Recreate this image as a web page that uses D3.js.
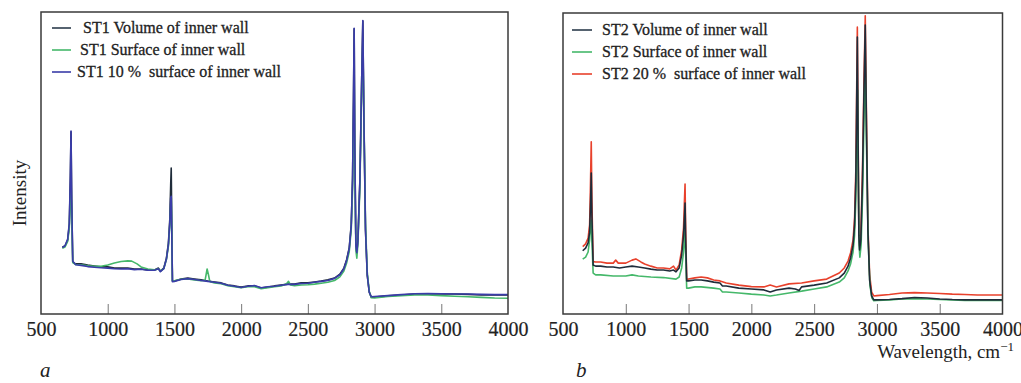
<!DOCTYPE html>
<html>
<head>
<meta charset="utf-8">
<script src="https://cdn.jsdelivr.net/npm/d3@7"></script>
<style>
  body { margin: 0; background: #fff; }
  svg { display: block; }
  text { font-family: "Liberation Serif", "Times New Roman", serif; fill: #222; }
</style>
</head>
<body>
<div id="chart"></div>
<script>
// x ticks shared by both panels
const tickValues = [500, 1000, 1500, 2000, 2500, 3000, 3500, 4000];

// ---- panel a: [wavenumber, intensity (arb.)] ----
const st1Volume = [
  [660,22.2],[680,22.5],[700,24.5],[712,29.5],[720,44.4],[725,60.3],[730,37.7],[738,17.2],
  [760,16.6],[800,16.6],[850,16.2],[900,15.9],[950,15.6],[1000,15.6],[1050,15.2],[1100,15.2],
  [1150,15.2],[1200,14.9],[1250,14.9],[1300,14.6],[1350,14.6],[1380,15.2],[1395,14.2],[1420,15.2],
  [1440,18.5],[1455,23.5],[1465,31.1],[1472,42.7],[1476,48.3],[1480,31.1],[1485,10.9],[1500,10.9],
  [1550,11.6],[1600,11.9],[1650,11.6],[1700,11.3],[1750,10.9],[1800,10.6],[1850,10.3],[1900,9.6],
  [1950,9.3],[2000,8.9],[2050,9.3],[2100,9.3],[2150,8.6],[2200,8.9],[2250,9.3],[2300,9.6],
  [2350,9.9],[2400,9.9],[2450,10.3],[2500,10.3],[2550,10.6],[2600,10.9],[2650,11.3],[2700,11.9],
  [2740,13.2],[2770,15.2],[2790,17.9],[2810,21.9],[2825,29.5],[2835,44.4],[2842,70.9],[2847,94.4],
  [2852,54.3],[2860,22.8],[2867,20.5],[2875,24.5],[2890,44.4],[2902,74.2],[2912,97.0],[2920,64.2],
  [2932,27.8],[2945,12.9],[2960,7.3],[2975,5.6],[3000,5.6],[3100,6.0],[3200,6.3],[3300,6.6],
  [3400,6.7],[3500,6.6],[3600,6.6],[3700,6.5],[3800,6.3],[3900,6.3],[4000,6.3]
];
const st1Surface = [
  [660,21.8],[680,22.2],[700,24.0],[712,28.5],[720,38.0],[725,45.0],[730,33.0],[738,17.0],
  [760,16.4],[800,16.3],[850,16.0],[900,15.8],[950,15.8],[1000,16.2],[1050,16.9],[1100,17.4],
  [1150,17.6],[1180,17.5],[1220,16.6],[1250,15.6],[1300,14.9],[1350,14.6],[1380,15.0],[1395,14.2],
  [1420,15.0],[1440,18.0],[1455,22.5],[1465,29.0],[1472,36.0],[1476,38.5],[1480,28.0],[1485,11.0],
  [1500,11.0],[1550,11.5],[1600,11.6],[1650,11.3],[1700,11.0],[1730,11.2],[1745,14.9],[1755,13.0],
  [1765,10.8],[1800,10.3],[1850,10.0],[1900,9.4],[1950,9.0],[2000,8.7],[2050,9.0],[2100,9.0],
  [2150,8.4],[2200,8.7],[2250,9.0],[2300,9.3],[2340,10.0],[2355,10.8],[2370,9.6],[2400,9.4],
  [2450,9.6],[2500,9.7],[2550,9.9],[2600,10.2],[2650,10.5],[2700,11.1],[2740,12.3],[2770,14.2],
  [2790,16.8],[2810,20.6],[2825,27.8],[2835,41.0],[2842,62.0],[2847,80.0],[2852,48.0],[2860,21.0],
  [2867,18.5],[2875,23.0],[2890,42.0],[2902,70.0],[2912,90.0],[2920,66.0],[2932,30.0],[2945,14.0],
  [2960,7.5],[2975,5.4],[3000,5.3],[3100,5.8],[3200,6.1],[3300,6.3],[3400,6.3],[3500,6.1],
  [3600,5.9],[3700,5.7],[3800,5.5],[3900,5.3],[4000,5.2]
];
const st1Ten = [
  [660,22.0],[680,22.6],[700,24.8],[712,30.0],[720,46.0],[725,60.6],[730,38.0],[738,17.5],
  [760,16.3],[800,16.1],[850,15.7],[900,15.5],[950,15.3],[1000,15.2],[1050,15.0],[1100,14.9],
  [1150,15.0],[1200,14.7],[1250,14.8],[1300,14.5],[1350,14.5],[1380,15.0],[1395,14.0],[1420,15.0],
  [1440,18.2],[1455,23.0],[1465,30.0],[1472,38.5],[1476,39.0],[1480,27.0],[1485,10.7],[1500,10.8],
  [1550,11.4],[1600,11.7],[1650,11.4],[1700,11.1],[1750,10.8],[1800,10.5],[1850,10.2],[1900,9.5],
  [1950,9.2],[2000,8.8],[2050,9.2],[2100,9.4],[2150,8.7],[2200,9.0],[2250,9.2],[2300,9.5],
  [2350,9.8],[2400,9.8],[2450,10.1],[2500,10.2],[2550,10.5],[2600,10.8],[2650,11.1],[2700,11.8],
  [2740,13.0],[2770,15.0],[2790,17.6],[2810,21.6],[2825,29.0],[2835,45.0],[2842,72.0],[2847,94.6],
  [2852,55.0],[2860,22.5],[2867,20.3],[2875,24.0],[2890,44.0],[2902,74.0],[2912,97.2],[2920,65.0],
  [2932,28.0],[2945,13.0],[2960,7.2],[2975,5.7],[3000,5.8],[3100,6.1],[3200,6.4],[3300,6.7],
  [3400,6.8],[3500,6.7],[3600,6.6],[3700,6.6],[3800,6.5],[3900,6.4],[4000,6.4]
];

// ---- panel b ----
const st2Volume = [
  [657,21.0],[680,21.9],[700,23.6],[712,27.2],[720,37.9],[725,46.8],[730,32.9],[740,16.3],
  [760,15.9],[800,15.9],[850,15.6],[900,15.6],[950,15.3],[1000,15.6],[1050,15.9],[1100,15.6],
  [1150,15.3],[1200,14.9],[1250,14.6],[1300,14.6],[1350,14.3],[1380,14.6],[1400,14.0],[1425,15.3],
  [1445,19.6],[1460,26.2],[1468,32.9],[1472,36.9],[1477,24.6],[1485,11.0],[1500,11.0],[1550,11.3],
  [1600,11.3],[1650,11.0],[1700,10.6],[1750,10.3],[1770,9.3],[1800,9.3],[1900,8.6],[2000,8.3],
  [2100,8.0],[2150,7.3],[2200,8.0],[2300,8.6],[2350,8.3],[2380,7.8],[2400,9.0],[2500,9.6],
  [2600,10.3],[2700,12.0],[2740,13.6],[2770,15.9],[2790,18.6],[2810,22.9],[2822,29.6],[2832,44.5],
  [2838,67.8],[2844,92.0],[2850,57.8],[2856,26.2],[2862,21.3],[2872,24.6],[2885,44.5],[2897,74.4],
  [2907,96.0],[2915,67.8],[2928,27.9],[2942,11.3],[2958,6.0],[2975,4.7],[3000,4.7],[3100,4.8],
  [3200,5.1],[3300,5.5],[3400,5.3],[3500,5.0],[3600,4.8],[3700,4.7],[3800,4.7],[3900,4.7],[4000,4.7]
];
const st2Surface = [
  [657,18.2],[680,18.9],[700,20.6],[712,24.6],[720,29.6],[725,31.2],[730,24.6],[740,13.6],
  [760,13.0],[800,13.0],[900,12.6],[1000,12.6],[1050,13.0],[1100,12.6],[1200,12.3],[1300,12.1],
  [1400,11.6],[1425,12.3],[1445,15.3],[1460,20.6],[1468,25.2],[1472,27.9],[1477,19.6],[1485,8.6],
  [1500,8.6],[1550,9.0],[1600,9.0],[1700,8.6],[1750,8.3],[1770,7.3],[1800,7.3],[1900,7.0],
  [2000,6.6],[2100,6.3],[2150,6.0],[2200,6.3],[2300,7.0],[2400,7.6],[2500,8.3],[2600,9.0],
  [2700,10.6],[2740,12.0],[2770,14.3],[2790,16.6],[2810,20.6],[2822,26.2],[2832,37.9],[2840,57.8],
  [2846,74.4],[2852,44.5],[2858,22.9],[2864,18.9],[2874,22.9],[2887,41.2],[2897,64.5],[2907,84.4],
  [2916,57.8],[2930,24.6],[2944,9.6],[2960,5.3],[2975,4.4],[3000,4.5],[3100,4.7],[3200,5.0],
  [3300,5.1],[3400,5.0],[3500,4.8],[3600,4.7],[3700,4.5],[3800,4.5],[3900,4.5],[4000,4.5]
];
const st2Twenty = [
  [657,22.4],[680,23.3],[700,25.2],[712,29.6],[718,41.2],[725,57.2],[730,37.9],[740,17.4],
  [760,17.3],[800,17.3],[850,16.9],[900,16.9],[920,17.9],[940,16.9],[1000,16.9],[1050,17.9],
  [1080,18.3],[1120,17.3],[1150,16.6],[1200,15.9],[1250,15.3],[1300,15.3],[1350,15.0],[1380,15.9],
  [1400,14.6],[1425,16.3],[1445,21.3],[1460,28.6],[1466,36.2],[1472,43.2],[1477,27.9],[1485,11.6],
  [1500,11.6],[1550,12.0],[1600,12.3],[1650,12.0],[1700,11.3],[1750,11.0],[1800,10.3],[1900,9.6],
  [2000,9.1],[2100,9.0],[2150,9.6],[2200,9.0],[2300,10.0],[2400,10.3],[2500,11.0],[2600,11.6],
  [2700,13.6],[2740,15.3],[2770,17.6],[2790,20.3],[2810,24.6],[2822,31.9],[2832,47.8],[2838,71.1],
  [2844,95.3],[2850,61.1],[2856,27.9],[2862,22.6],[2872,27.2],[2885,47.8],[2897,77.7],[2907,99.1],
  [2915,71.1],[2928,29.6],[2942,13.0],[2958,7.3],[2975,6.0],[3000,6.1],[3100,6.5],[3200,7.0],
  [3300,7.1],[3400,7.0],[3500,6.8],[3600,6.6],[3700,6.5],[3800,6.3],[3900,6.3],[4000,6.3]
];

const width = 1021, height = 383;
const svg = d3.select("#chart").append("svg")
  .attr("width", width)
  .attr("height", height);

svg.append("rect").attr("width", width).attr("height", height).attr("fill", "#fff");

function drawPanel(p) {
  const x = d3.scaleLinear().domain([500, 4000]).range([p.left, p.right]);
  const y = d3.scaleLinear().domain([0, 100]).range([p.bottom, p.top]);
  const g = svg.append("g");

  // inner ticks (pointing up, no labels)
  g.append("g")
    .attr("transform", `translate(0,${p.bottom})`)
    .call(d3.axisBottom(x).tickValues(tickValues.slice(1, -1)).tickSize(-10).tickFormat(""))
    .call(a => a.select(".domain").remove())
    .call(a => a.selectAll("line").attr("stroke", "#777").attr("stroke-width", 1));

  // labels
  g.append("g")
    .attr("transform", `translate(0,${p.bottom})`)
    .call(d3.axisBottom(x).tickValues(tickValues).tickSize(0).tickPadding(8).tickFormat(d3.format("d")))
    .call(a => a.select(".domain").remove())
    .call(a => a.selectAll("text")
      .attr("font-family", "Liberation Serif, serif")
      .attr("font-size", 20)
      .attr("fill", "#222")
      .attr("stroke", "#222").attr("stroke-width", 0.2));

  const line = d3.line().x(d => x(d[0])).y(d => y(d[1]));
  p.series.forEach(s => {
    g.append("path")
      .datum(s.data)
      .attr("fill", "none")
      .attr("stroke", s.color)
      .attr("stroke-width", 1.6)
      .attr("stroke-linejoin", "round")
      .attr("d", line);
  });

  // frame
  g.append("rect")
    .attr("x", p.left).attr("y", p.top)
    .attr("width", p.right - p.left).attr("height", p.bottom - p.top)
    .attr("fill", "none").attr("stroke", "#3a3a3a").attr("stroke-width", 1.5);

  // legend
  p.legend.forEach((s, i) => {
    const ly = p.legendY + i * 22;
    g.append("line")
      .attr("x1", p.legendX).attr("x2", p.legendX + p.legendLen)
      .attr("y1", ly).attr("y2", ly)
      .attr("stroke", s.color).attr("stroke-width", 1.6);
    g.append("text")
      .attr("x", p.legendX + p.legendLen + s.gap)
      .attr("y", ly + 5)
      .attr("font-size", 16)
      .attr("stroke", "#222").attr("stroke-width", 0.3)
      .style("white-space", "pre")
      .text(s.name);
  });

  // panel letter
  g.append("text")
    .attr("x", p.letterX).attr("y", p.letterY)
    .attr("font-size", 21).attr("font-style", "italic")
    .text(p.letter);
}

const colBlack = "#1f2c3a", colGreen = "#45b86a", colBlue = "#3a3ca8", colRed = "#e8412c";

drawPanel({
  left: 41, right: 508, top: 12, bottom: 314,
  series: [
    { data: st1Volume, color: colBlack },
    { data: st1Surface, color: colGreen },
    { data: st1Ten, color: colBlue }
  ],
  legend: [
    { name: "ST1 Volume of inner wall", color: "#2b3c4c", gap: 12 },
    { name: "ST1 Surface of inner wall", color: colGreen, gap: 9 },
    { name: "ST1 10 %  surface of inner wall", color: colBlue, gap: 6 }
  ],
  legendX: 52, legendLen: 19, legendY: 28,
  letter: "a", letterX: 40, letterY: 377
});

drawPanel({
  left: 563, right: 1002.5, top: 13, bottom: 314,
  series: [
    { data: st2Twenty, color: colRed },
    { data: st2Surface, color: colGreen },
    { data: st2Volume, color: colBlack }
  ],
  legend: [
    { name: "ST2 Volume of inner wall", color: "#2b3c4c", gap: 10 },
    { name: "ST2 Surface of inner wall", color: colGreen, gap: 10 },
    { name: "ST2 20 %  surface of inner wall", color: colRed, gap: 10 }
  ],
  legendX: 572, legendLen: 20, legendY: 30,
  letter: "b", letterX: 576, letterY: 377
});

// y axis title
svg.append("text")
  .attr("transform", "translate(26,193) rotate(-90)")
  .attr("text-anchor", "middle")
  .attr("font-size", 19)
  .text("Intensity");

// x axis title
const xt = svg.append("text")
  .attr("x", 1014).attr("y", 358)
  .attr("text-anchor", "end")
  .attr("font-size", 19);
xt.append("tspan").text("Wavelength, cm");
xt.append("tspan").attr("dy", -7).attr("font-size", 13).text("−1");
</script>
</body>
</html>
